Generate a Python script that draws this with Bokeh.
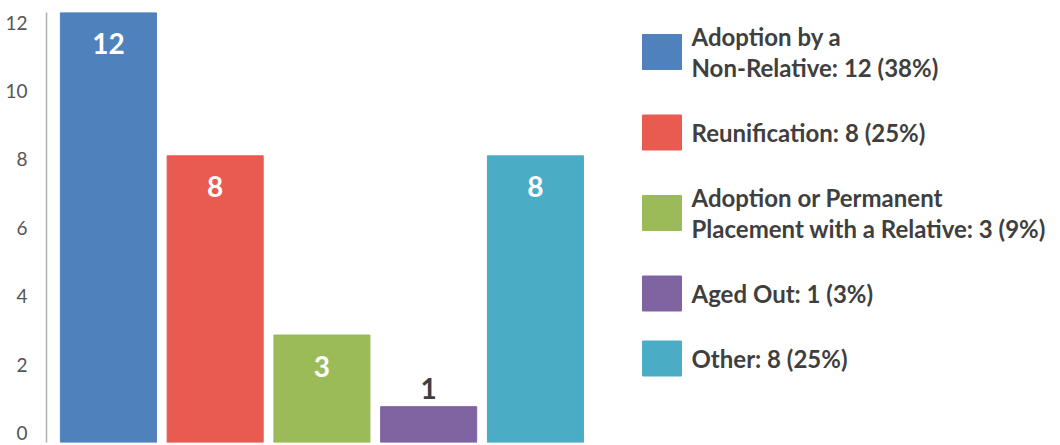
from bokeh.plotting import figure
from bokeh.models import Range1d, ColumnDataSource, FixedTicker, LinearAxis
from bokeh.core.properties import value
from bokeh.embed import file_html
from bokeh.resources import INLINE

categories = ["Adoption by a\nNon-Relative", "Reunification",
              "Adoption or Permanent\nPlacement with a Relative", "Aged Out", "Other"]
counts = [12, 8, 3, 1, 8]
colors = ["#4F81BD", "#E95A50", "#9BBB59", "#8064A2", "#4BACC6"]
y_ticks = [0, 2, 4, 6, 8, 10, 12]

FONT = "Lato"
TXT = "#3f3f3f"

total = sum(counts)
xs = list(range(len(counts)))

W, H = 1060, 445
BL, BT, BB, BR = 46, 12, 3, 0
frame_w = W - BL - BR
px_per_cat = 106.75
x0 = -0.58
x1 = x0 + frame_w / px_per_cat

p = figure(width=W, height=H, output_backend="svg", toolbar_location=None,
           x_range=Range1d(x0, x1), y_range=Range1d(0, 12),
           x_axis_location=None, y_axis_location=None,
           min_border_left=BL, min_border_right=BR, min_border_top=BT,
           min_border_bottom=BB, outline_line_color=None)
# pixel-space ranges (page pixels) for the legend block; label range for the axis
p.extra_x_ranges = {"px": Range1d(BL, W - BR)}
p.extra_y_ranges = {"py": Range1d(H - BB, BT),
                    "ylab": Range1d(-0.263, 12.292)}
p.grid.visible = False

yax = LinearAxis(y_range_name="ylab", ticker=FixedTicker(ticks=y_ticks))
yax.major_tick_line_color = None
yax.minor_tick_line_color = None
yax.axis_line_color = "#b0b0b0"
yax.axis_line_width = 1.5
yax.major_label_text_font = FONT
yax.major_label_text_font_size = "19px"
yax.major_label_text_color = "#555555"
yax.major_label_standoff = 13
p.add_layout(yax, "left")

src = ColumnDataSource(dict(x=xs, top=counts, color=colors))
p.vbar(x="x", top="top", width=0.9, color="color", source=src)

inside = [i for i, c in enumerate(counts) if c >= 2]
outside = [i for i, c in enumerate(counts) if c < 2]
p.text(x=[xs[i] for i in inside], y=[counts[i] for i in inside],
       text=[str(counts[i]) for i in inside], text_align="center",
       text_baseline="middle", y_offset=31, text_color="white",
       text_font=value(FONT), text_font_style="bold", text_font_size="28px")
p.text(x=[xs[i] for i in outside], y=[counts[i] for i in outside],
       text=[str(counts[i]) for i in outside], text_align="center",
       text_baseline="middle", y_offset=-18, text_color=TXT,
       text_font=value(FONT), text_font_style="bold", text_font_size="28px")

# ---------------- legend (page-pixel coordinates) ----------------
labels = []
for cat, c in zip(categories, counts):
    pct = round(c / total * 100)
    labels.append((cat + f": {c} ({pct}%)").split("\n"))

line_h = 31
gap = 34
sq_left, sq_w, sq_h = 642, 39, 35
text_x = 691
cy = 51.5
prev = None
sq_cx, sq_cy, tx, ty, tt = [], [], [], [], []
for lines in labels:
    n = len(lines)
    if prev is not None:
        cy += (prev * line_h) / 2 + gap + (n * line_h) / 2
    sq_cx.append(sq_left + sq_w / 2)
    sq_cy.append(cy)
    for k, ln in enumerate(lines):
        tx.append(text_x)
        ty.append(cy + (k - (n - 1) / 2) * line_h)
        tt.append(ln)
    prev = n

p.rect(x=sq_cx, y=sq_cy, width=sq_w, height=sq_h, color=colors,
       x_range_name="px", y_range_name="py")
p.text(x=tx, y=ty, text=tt, text_align="left", text_baseline="middle",
       text_color=TXT, text_font=value(FONT), text_font_style="bold",
       text_font_size="24px", x_range_name="px", y_range_name="py")

open("out.html", "w").write(file_html(p, INLINE))
